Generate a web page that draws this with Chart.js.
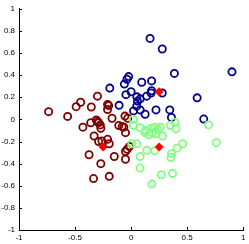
<!DOCTYPE html>
<html lang="en">
<head>
    <meta charset="UTF-8">
    <title>Clusters</title>
    <script src="https://cdn.jsdelivr.net/npm/chart.js"></script>
    <style>
        body { margin: 0; background: #fff; }
    </style>
</head>
<body>
    <canvas id="chartCanvas" width="249" height="244"></canvas>

    <script>
        // cluster points
        const redX = [-0.736, -0.566, -0.49, -0.45, -0.30, -0.355, -0.21, -0.20, -0.21, -0.17, -0.43, -0.36, -0.31, -0.29, -0.275, -0.27, -0.33, -0.29, -0.26, -0.21, -0.195, -0.375, -0.15, -0.27, -0.335, -0.195, -0.11, -0.08, -0.065, -0.055, -0.03, -0.05, -0.05, -0.035, -0.015, -0.05, -0.30];
        const redY = [0.07, 0.027, 0.115, 0.155, 0.21, 0.112, 0.135, 0.125, 0.09, 0.01, -0.07, -0.03, -0.005, -0.03, -0.05, -0.08, -0.15, -0.20, -0.195, -0.18, -0.22, -0.32, -0.335, -0.40, -0.535, -0.515, -0.055, -0.065, -0.07, 0.03, 0.01, -0.12, -0.29, -0.27, -0.245, -0.36, -0.02];

        const blueX = [0.169, 0.278, 0.386, 0.90, -0.022, -0.037, -0.06, -0.19, 0.095, 0.183, 0.0, -0.046, 0.051, 0.081, 0.057, 0.183, 0.178, 0.139, 0.278, -0.107, 0.022, 0.081, 0.125, 0.222, 0.345, 0.36, 0.589, 0.648, 0.05];
        const blueY = [0.732, 0.637, 0.416, 0.43, 0.387, 0.363, 0.319, 0.283, 0.336, 0.348, 0.25, 0.224, 0.204, 0.186, 0.165, 0.259, 0.239, 0.21, 0.239, 0.127, 0.077, 0.086, 0.047, 0.086, 0.086, 0.018, 0.195, 0.003, 0.12];

        const greenX = [0.02, 0.02, 0.08, 0.125, 0.16, 0.18, 0.21, 0.22, 0.24, 0.26, 0.28, 0.35, 0.39, 0.40, 0.69, 0.76, 0.46, 0.41, 0.36, 0.355, 0.21, 0.14, 0.08, 0.08, 0.27, 0.37, 0.185, 0.005, 0.05, 0.13, 0.19];
        const greenY = [0.0, -0.055, -0.075, -0.12, -0.14, -0.08, -0.07, -0.13, -0.09, -0.07, -0.15, -0.055, -0.025, -0.085, -0.05, -0.21, -0.22, -0.26, -0.31, -0.345, -0.285, -0.28, -0.335, -0.44, -0.50, -0.49, -0.585, -0.22, -0.22, -0.10, -0.12];

        const centerX = [-0.25, 0.25, 0.25];
        const centerY = [-0.25, 0.25, -0.25];

        const xTicks = [-1, -0.5, 0, 0.5, 1];
        const yTicks = [-1, -0.8, -0.6, -0.4, -0.2, 0, 0.2, 0.4, 0.6, 0.8, 1];

        function pts(xs, ys) {
            return xs.map((x, i) => ({ x: x, y: ys[i] }));
        }

        function ring(color, order) {
            return {
                data: [],
                borderColor: color,
                backgroundColor: 'rgba(0,0,0,0)',
                borderWidth: 1.8,
                pointRadius: 3.6,
                pointStyle: 'circle',
                order: order
            };
        }

        const red = ring('#800000', 3);
        red.data = pts(redX, redY);
        const blue = ring('#000090', 2);
        blue.data = pts(blueX, blueY);
        const green = ring('#80ff80', 1);
        green.data = pts(greenX, greenY);

        const centers = {
            data: pts(centerX, centerY),
            pointStyle: 'rectRot',
            pointRadius: 4.5,
            borderWidth: 0,
            backgroundColor: '#ff0000',
            borderColor: '#ff0000',
            order: 0
        };

        // MATLAB style ticks pointing into the plot
        const inwardTicks = {
            id: 'inwardTicks',
            afterDraw(chart) {
                const c = chart.ctx;
                const a = chart.chartArea;
                const xs = chart.scales.x, ys = chart.scales.y;
                c.save();
                c.strokeStyle = '#000';
                c.lineWidth = 1;
                c.beginPath();
                xTicks.forEach(v => {
                    const px = Math.round(xs.getPixelForValue(v)) + 0.5;
                    c.moveTo(px, a.bottom);
                    c.lineTo(px, a.bottom - 3);
                });
                yTicks.forEach(v => {
                    const py = Math.round(ys.getPixelForValue(v)) + 0.5;
                    c.moveTo(a.left, py);
                    c.lineTo(a.left + 3, py);
                });
                c.stroke();
                c.restore();
            }
        };

        const tickFont = { family: 'Liberation Sans', size: 8 };
        const fmt = v => String(Number(v.toFixed(2)));

        new Chart(document.getElementById('chartCanvas').getContext('2d'), {
            type: 'scatter',
            data: { datasets: [red, blue, green, centers] },
            options: {
                responsive: false,
                animation: false,
                layout: { padding: { top: 4, right: 3, left: 0, bottom: 0 } },
                plugins: { legend: { display: false }, tooltip: { enabled: false } },
                scales: {
                    x: {
                        type: 'linear',
                        min: -1, max: 1,
                        afterBuildTicks: s => { s.ticks = xTicks.map(v => ({ value: v })); },
                        afterFit: s => { s.height = 14; },
                        grid: { display: false, drawTicks: false },
                        border: { display: true, color: '#000', width: 1 },
                        ticks: { font: tickFont, color: '#000', padding: 3, maxRotation: 0, autoSkip: false, callback: fmt }
                    },
                    y: {
                        type: 'linear',
                        min: -1, max: 1,
                        afterBuildTicks: s => { s.ticks = yTicks.map(v => ({ value: v })); },
                        afterFit: s => { s.width = 19; },
                        grid: { display: false, drawTicks: false },
                        border: { display: true, color: '#000', width: 1 },
                        ticks: { font: tickFont, color: '#000', padding: 4, autoSkip: false, callback: fmt }
                    }
                }
            },
            plugins: [inwardTicks]
        });
    </script>
</body>
</html>
